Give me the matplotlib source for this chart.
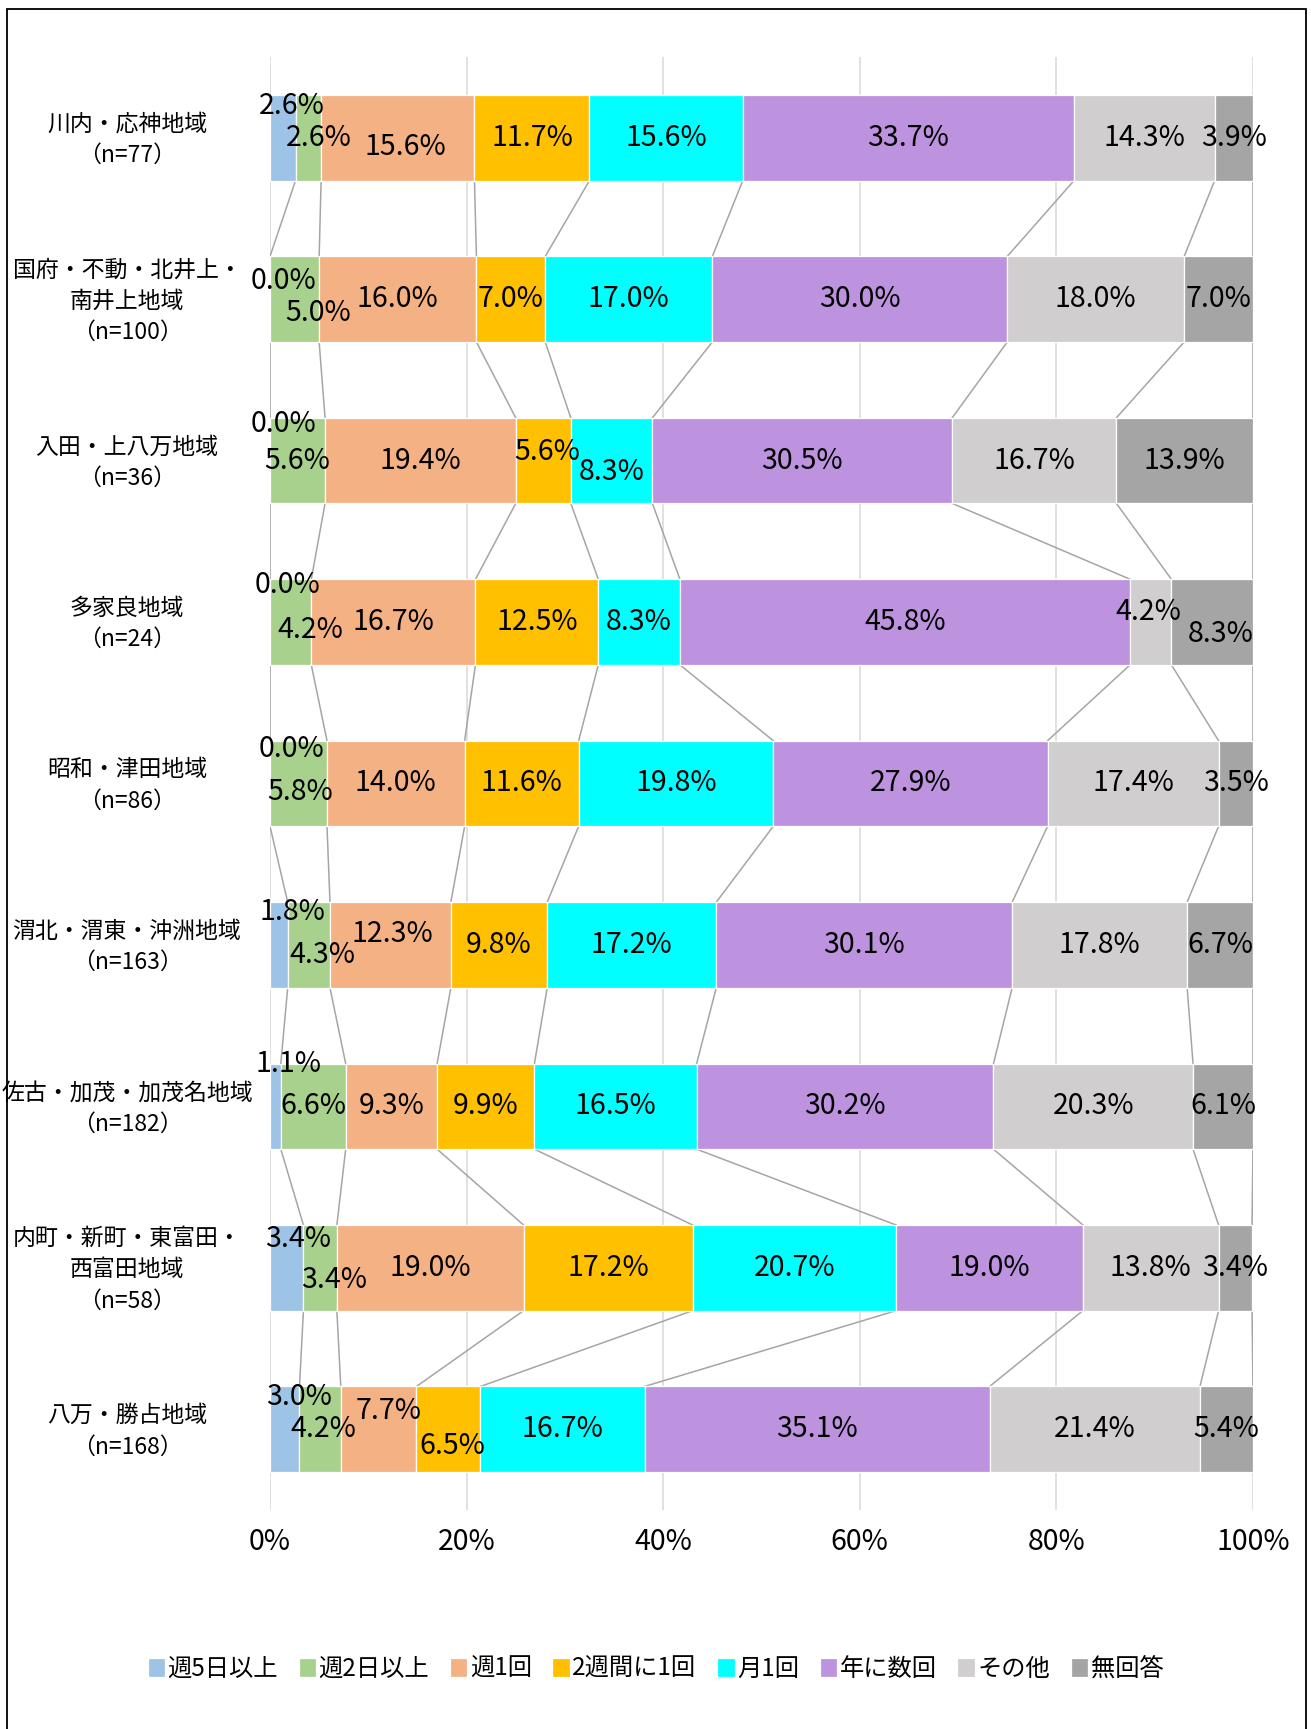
import matplotlib
matplotlib.use("Agg")
import matplotlib.pyplot as plt
import matplotlib.transforms as mtransforms
from matplotlib.patches import Rectangle
import numpy as np

plt.rcParams["font.family"] = ["Noto Sans CJK JP", "DejaVu Sans"]

# ── data ─────────────────────────────────────────────────────────────────────
regions = [
    "川内・応神地域\n（n=77）",
    "国府・不動・北井上・\n南井上地域\n（n=100）",
    "入田・上八万地域\n（n=36）",
    "多家良地域\n（n=24）",
    "昭和・津田地域\n（n=86）",
    "渭北・渭東・沖洲地域\n（n=163）",
    "佐古・加茂・加茂名地域\n（n=182）",
    "内町・新町・東富田・\n西富田地域\n（n=58）",
    "八万・勝占地域\n（n=168）",
]
series_names = ["週5日以上", "週2日以上", "週1回", "2週間に1回",
                "月1回", "年に数回", "その他", "無回答"]

week5 = [2.6, 0.0, 0.0, 0.0, 0.0, 1.8, 1.1, 3.4, 3.0]
week2 = [2.6, 5.0, 5.6, 4.2, 5.8, 4.3, 6.6, 3.4, 4.2]
week1 = [15.6, 16.0, 19.4, 16.7, 14.0, 12.3, 9.3, 19.0, 7.7]
biweekly = [11.7, 7.0, 5.6, 12.5, 11.6, 9.8, 9.9, 17.2, 6.5]
monthly = [15.6, 17.0, 8.3, 8.3, 19.8, 17.2, 16.5, 20.7, 16.7]
few_year = [33.7, 30.0, 30.5, 45.8, 27.9, 30.1, 30.2, 19.0, 35.1]
other = [14.3, 18.0, 16.7, 4.2, 17.4, 17.8, 20.3, 13.8, 21.4]
no_answer = [3.9, 7.0, 13.9, 8.3, 3.5, 6.7, 6.1, 3.4, 5.4]

colors = ["#9DC3E6", "#A9D18E", "#F4B183", "#FFC000",
          "#00FFFF", "#BD92DE", "#D0CECE", "#A5A5A5"]

# manual label nudges (output pixels, +x right, +y down), like the hand-moved Excel labels
nudge = {
    (0, 0): (9, -32), (0, 1): (10, 0), (0, 2): (8, 9),
    (1, 0): (14, -18), (1, 1): (24, 14),
    (2, 0): (14, -37), (2, 3): (4, -9), (2, 4): (0, 11),
    (3, 0): (17, -37), (3, 1): (20, 8), (3, 6): (-2, -10), (3, 7): (8, 12),
    (4, 0): (21, -34), (4, 1): (2, 9),
    (5, 0): (14, -33), (5, 1): (14, 10), (5, 2): (2, -11),
    (6, 0): (13, -42),
    (7, 0): (11, -29), (7, 1): (14, 12),
    (8, 0): (14, -32), (8, 1): (3, 0), (8, 2): (10, -18), (8, 3): (4, 17),
}

# ── figure ───────────────────────────────────────────────────────────────────
W, H = 1311, 1729
fig = plt.figure(figsize=(W / 100, H / 100), dpi=100)
ax = fig.add_axes([270 / W, 1 - 1510 / H, 983 / W, 1453 / H])

values = np.array([week5, week2, week1, biweekly, monthly, few_year, other, no_answer])
y = np.arange(len(regions))
bar_h = 0.53
left = np.zeros(len(regions))
handles = []
for k, (name, col) in enumerate(zip(series_names, colors)):
    bars = ax.barh(y, values[k], left=left, height=bar_h, color=col,
                   edgecolor="white", linewidth=0.9, label=name, zorder=2)
    handles.append(bars)
    for i, v in enumerate(values[k]):
        dx, dy = nudge.get((i, k), (0, 0))
        ax.annotate(f"{v:.1f}%", (left[i] + v / 2, y[i]),
                    xytext=(dx * 0.72, -dy * 0.72), textcoords="offset points",
                    ha="center", va="center", fontsize=20.5, color="black",
                    zorder=4)
    left = left + values[k]

# series lines between consecutive bars
cum = np.cumsum(values, axis=0)
for i in range(len(regions) - 1):
    for k in range(len(series_names)):
        ax.plot([cum[k, i], cum[k, i + 1]],
                [y[i] + bar_h / 2, y[i + 1] - bar_h / 2],
                color="#A5A5A5", linewidth=1.1, zorder=1)

ax.set_xlim(0, 100)
ax.set_ylim(len(regions) - 0.5, -0.5)
ax.set_xticks(np.arange(0, 101, 20))
ax.set_xticklabels([f"{t}%" for t in range(0, 101, 20)], fontsize=20.5)
ax.set_yticks(y)
ax.set_yticklabels(regions, fontsize=16.5, ha="center", linespacing=1.45)
ax.tick_params(axis="y", length=0, pad=103)
ax.tick_params(axis="x", length=0, pad=12)
# lift the category labels a touch so they sit centred on the bars
shift = mtransforms.ScaledTranslation(0, 0.045, fig.dpi_scale_trans)
for lbl in ax.get_yticklabels():
    lbl.set_transform(lbl.get_transform() + shift)
ax.xaxis.grid(True, color="#D9D9D9", linewidth=1.1, zorder=0)
ax.set_axisbelow(True)
for s in ax.spines.values():
    s.set_visible(False)

fig.legend(handles=handles, labels=series_names, loc="center",
           bbox_to_anchor=(0.5, 1 - 1669 / H), ncol=8, frameon=False,
           fontsize=17.5, handlelength=0.72, handleheight=0.8,
           handletextpad=0.1, columnspacing=0.85)

# outer border
fig.patches.append(Rectangle((7 / W, -0.01), 1299 / W, 1.01 - 9 / H,
                             transform=fig.transFigure, fill=False,
                             edgecolor="black", linewidth=1.3))

fig.savefig("out.png", dpi=100)
